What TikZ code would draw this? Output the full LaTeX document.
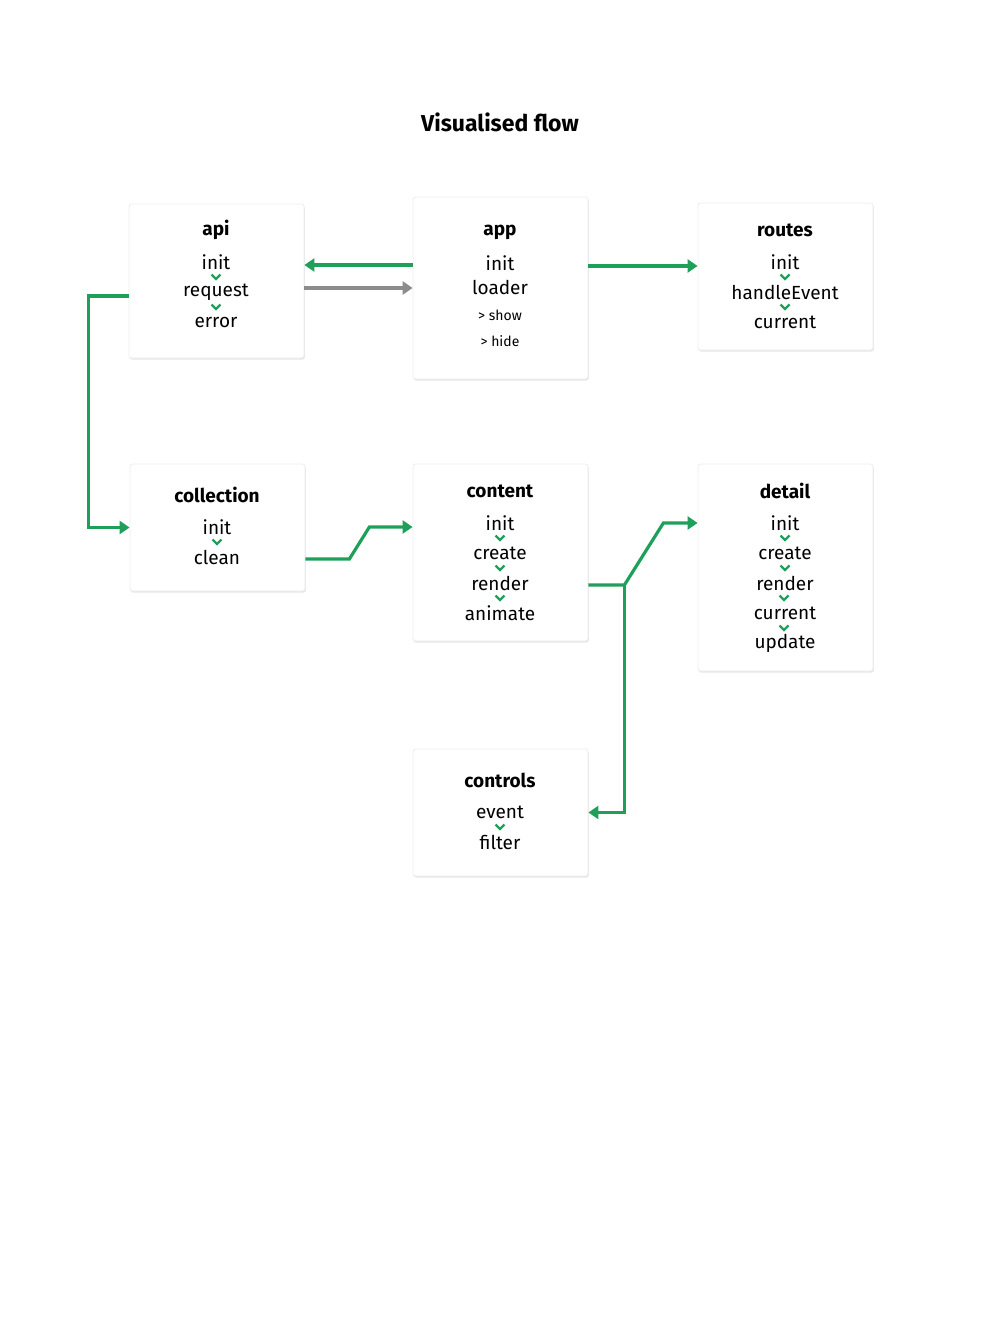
\documentclass[tikz,border=0pt]{standalone}
\usepackage{fontspec}
\setmainfont{Fira Sans}
\usepackage{tikz}
\usetikzlibrary{arrows.meta,shadows}
\definecolor{flowgreen}{RGB}{31,160,90}
\definecolor{flowgray}{RGB}{140,140,140}
\newcommand{\chev}[2]{\draw[flowgreen,line width=2.2pt] (#1-4.5,#2-2.5)--(#1,#2+2)--(#1+4.5,#2-2.5);}

\begin{document}
\begin{tikzpicture}[x=1pt,y=-1pt]%
            \useasboundingbox (0,0) rectangle (1000,1344); %%
            \node[font=\fontsize{23}{26}\selectfont\bfseries] (title) at (500,122) {Visualised flow}; %%
            \begin{scope}[fill=white,inner sep=0pt]%
            \tikzstyle{every node}=[fill=white,draw=black!7,line width=0.8pt,rounded corners=2.5pt,minimum width=175pt,drop shadow={opacity=0.2,shadow xshift=0.8pt,shadow yshift=-1.6pt}] %%
            \node[minimum height=154pt] (api) at (216.5,281) {}; %%
            \node[minimum height=182pt] (app) at (500.5,288) {}; %%
            \node[minimum height=147pt] (routes) at (785.5,276.5) {}; %%
            \node[minimum height=127pt] (collection) at (217.5,527.5) {}; %%
            \node[minimum height=177pt] (content) at (500.5,552.5) {}; %%
            \node[minimum height=207pt] (detail) at (785.5,567.5) {}; %%
            \node[minimum height=127pt] (controls) at (500.5,812.5) {}; %%
            \end{scope}
            \begin{scope}[font=\fontsize{19}{21}\selectfont]%
            \tikzstyle{every node}=[inner sep=0pt] %%
            \node[font=\fontsize{19}{21}\selectfont\bfseries] (apiname) at (216,230) {api}; %%
            \node (api1) at (216,262) {init}; %%
            \node (api2) at (216,292) {request}; %%
            \node (api3) at (216,322) {error}; %%
            \node[font=\fontsize{19}{21}\selectfont\bfseries] (appname) at (500,232) {app}; %%
            \node (app1) at (500,263) {init}; %%
            \node (app2) at (500,287) {loader}; %%
            \node[font=\fontsize{14}{16}\selectfont] (app3) at (500,315) {> show}; %%
            \node[font=\fontsize{14}{16}\selectfont] (app4) at (500,341) {> hide}; %%
            \node[font=\fontsize{19}{21}\selectfont\bfseries] (routesname) at (785,230) {routes}; %%
            \node (routes1) at (785,262) {init}; %%
            \node (routes2) at (785,292) {handleEvent}; %%
            \node (routes3) at (785,322) {current}; %%
            \node[font=\fontsize{19}{21}\selectfont\bfseries] (collectionname) at (217,495) {collection}; %%
            \node (collection1) at (217,527) {init}; %%
            \node (collection2) at (217,557) {clean}; %%
            \node[font=\fontsize{19}{21}\selectfont\bfseries] (contentname) at (500,491) {content}; %%
            \node (content1) at (500,523) {init}; %%
            \node (content2) at (500,553) {create}; %%
            \node (content3) at (500,583) {render}; %%
            \node (content4) at (500,613) {animate}; %%
            \node[font=\fontsize{19}{21}\selectfont\bfseries] (detailname) at (785,491) {detail}; %%
            \node (detail1) at (785,523) {init}; %%
            \node (detail2) at (785,553) {create}; %%
            \node (detail3) at (785,583) {render}; %%
            \node (detail4) at (785,613) {current}; %%
            \node (detail5) at (785,643) {update}; %%
            \node[font=\fontsize{19}{21}\selectfont\bfseries] (controlsname) at (500,780) {controls}; %%
            \node (controls1) at (500,812) {event}; %%
            \node (controls2) at (500,842) {filter}; %%
            \end{scope}
            \chev{216}{277} \chev{216}{307} %%
            \chev{785}{277} \chev{785}{307} %%
            \chev{217}{542} %%
            \chev{500}{538} \chev{500}{568} \chev{500}{598} %%
            \chev{785}{538} \chev{785}{568} \chev{784}{598} \chev{784}{628} %%
            \chev{500}{827} %%
            \tikzstyle{link}=[line width=3.2pt,-{Triangle[length=10pt,width=13pt]}] %%
            \draw[link,flowgreen] ([yshift=23pt]app.west)--([yshift=16pt]api.east); %%
            \draw[link,flowgray] ([yshift=-7pt]api.east)--(app.west); %%
            \draw[link,flowgreen] ([yshift=22pt]app.east)--([yshift=10.5pt]routes.west); %%
            \draw[link,flowgreen] ([yshift=-15pt]api.west)--++(-40,0)|-(collection.west); %%
            \draw[link,flowgreen] ([yshift=-31.5pt]collection.east)--++(44,0)--++(20,-32)--([yshift=25.5pt]content.west); %%
            \draw[link,flowgreen] ([yshift=-32.5pt]content.east)--++(36,0) coordinate (split)--++(39,-62)--([yshift=44.5pt]detail.west); %%
            \draw[link,flowgreen] (split)|-(controls.east); %%
        \end{tikzpicture}
\end{document}
